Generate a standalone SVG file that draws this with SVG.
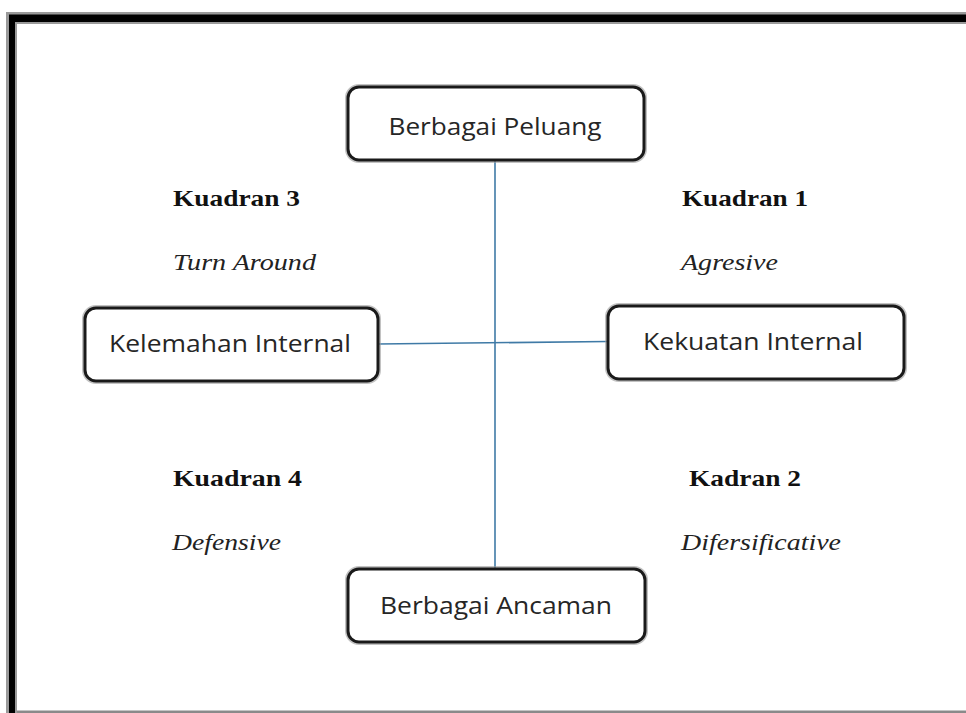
<svg xmlns="http://www.w3.org/2000/svg" width="966" height="713" viewBox="0 0 966 713">
<style>
.box{fill:#fff;stroke:#1a1a1a;stroke-width:3}
.shadow{fill:none;stroke:#9a9a9a;stroke-width:6;opacity:0.6}
.lbl{font-family:"Open Sans","Liberation Sans",sans-serif;font-size:24px;fill:#262626;text-anchor:middle}
.q{font-family:"Liberation Serif","Times New Roman",serif;font-size:24px;font-weight:bold;fill:#111}
.s{font-family:"Liberation Serif","Times New Roman",serif;font-size:24px;font-style:italic;fill:#222}
.conn{stroke:#3f7aa6;stroke-width:1.6;fill:none}
</style>
<rect width="966" height="713" fill="#fff"/>
<g id="frame">
<path d="M6,713 V12 H966 V24 H17 V713 Z" fill="#9a9a9a"/>
<path d="M9,713 V14.5 H966 V22 H15 V713 Z" fill="#000"/>
<rect x="17" y="710.5" width="949" height="2.5" fill="#8a8a8a"/>
</g>
<g id="connectors">
<line class="conn" x1="495" y1="160" x2="495" y2="569"/>
<line class="conn" x1="378" y1="344" x2="608" y2="341.5"/>
</g>
<g id="berbagai-peluang">
<rect class="shadow" x="348" y="87" width="296" height="73" rx="11"/>
<rect class="box" x="348" y="87" width="296" height="73" rx="11"/>
<text class="lbl" x="495" y="135" textLength="213" lengthAdjust="spacingAndGlyphs">Berbagai Peluang</text>
</g>
<g id="kelemahan-internal">
<rect class="shadow" x="85" y="308" width="293" height="73" rx="11"/>
<rect class="box" x="85" y="308" width="293" height="73" rx="11"/>
<text class="lbl" x="230" y="352" textLength="242" lengthAdjust="spacingAndGlyphs">Kelemahan Internal</text>
</g>
<g id="kekuatan-internal">
<rect class="shadow" x="608" y="306" width="296" height="73" rx="11"/>
<rect class="box" x="608" y="306" width="296" height="73" rx="11"/>
<text class="lbl" x="753" y="350" textLength="220" lengthAdjust="spacingAndGlyphs">Kekuatan Internal</text>
</g>
<g id="berbagai-ancaman">
<rect class="shadow" x="348" y="569" width="297" height="73" rx="11"/>
<rect class="box" x="348" y="569" width="297" height="73" rx="11"/>
<text class="lbl" x="496" y="614" textLength="232" lengthAdjust="spacingAndGlyphs">Berbagai Ancaman</text>
</g>
<g id="kuadran-3">
<text class="q" x="173" y="206" textLength="127" lengthAdjust="spacingAndGlyphs">Kuadran 3</text>
<text class="s" x="173" y="270" textLength="143" lengthAdjust="spacingAndGlyphs">Turn Around</text>
</g>
<g id="kuadran-1">
<text class="q" x="682" y="206" textLength="126" lengthAdjust="spacingAndGlyphs">Kuadran 1</text>
<text class="s" x="681" y="270" textLength="97" lengthAdjust="spacingAndGlyphs">Agresive</text>
</g>
<g id="kuadran-4">
<text class="q" x="173" y="486" textLength="129" lengthAdjust="spacingAndGlyphs">Kuadran 4</text>
<text class="s" x="172" y="550" textLength="109" lengthAdjust="spacingAndGlyphs">Defensive</text>
</g>
<g id="kadran-2">
<text class="q" x="689" y="486" textLength="112" lengthAdjust="spacingAndGlyphs">Kadran 2</text>
<text class="s" x="681" y="550" textLength="160" lengthAdjust="spacingAndGlyphs">Difersificative</text>
</g>
</svg>
